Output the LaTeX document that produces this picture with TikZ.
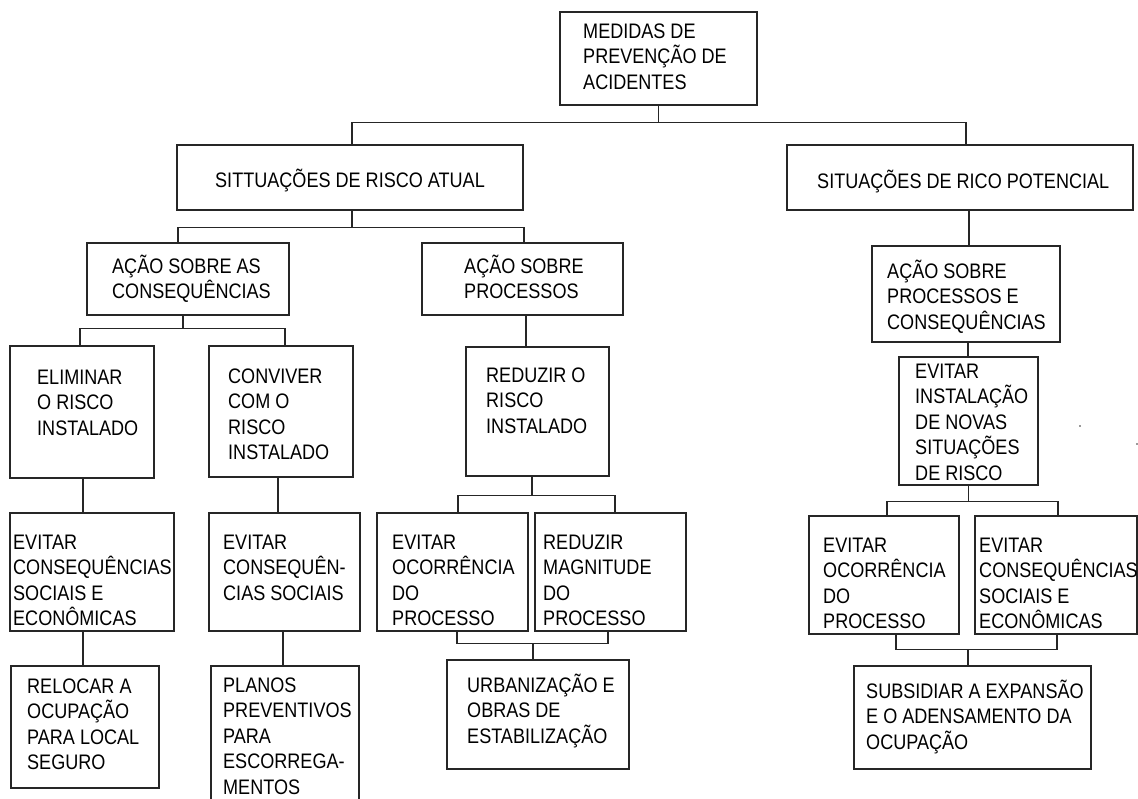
\documentclass[tikz,border=0pt]{standalone}
\usepackage{fontspec}
\setmainfont{Liberation Sans}[FakeStretch=0.86]
\usetikzlibrary{fit}
\tikzset{
  box/.style={draw=black!85, line width=1.3pt, rectangle, inner sep=0pt},
  txt/.style={inner sep=0pt, align=left, anchor=north west, text=black,
    font=\fontsize{21}{25.5}\selectfont},
  conn/.style={draw=black!85, line width=1.3pt}
}
\newcommand{\bx}[5]{\node[box, fit={(#2,#3) (#4,#5)}] (#1) {};}
\newcommand{\tx}[4]{\node[txt] (#1) at (#2,#3-6) {\rule{0pt}{21pt}#4};}
\begin{document}
\begin{tikzpicture}[x=1pt,y=-1pt]
\fill[white] (0,0) rectangle (1138,799);
\useasboundingbox (0,0) rectangle (1138,799);

% boxes
\bx{top}{560}{12}{757}{105}
\bx{atual}{177}{145}{523}{210}
\bx{pot}{787}{145}{1133}{210}
\bx{acons}{87}{243}{289}{315}
\bx{aproc}{422}{243}{623}{315}
\bx{apc}{872}{246}{1060}{342}
\bx{elim}{10}{346}{154}{478}
\bx{conv}{209}{346}{353}{477}
\bx{redu}{466}{347}{609}{476}
\bx{evinst}{899}{357}{1038}{485}
\bx{ecse}{10}{513}{174}{631}
\bx{ecs}{209}{513}{360}{631}
\bx{eop}{377}{513}{528}{631}
\bx{rmp}{535}{513}{686}{631}
\bx{reop}{809}{516}{959}{634}
\bx{recse}{975}{516}{1137}{634}
\bx{reloc}{11}{666}{159}{788}
\bx{planos}{211}{666}{359}{812}
\bx{urb}{447}{660}{629}{769}
\bx{subs}{854}{666}{1091}{769}

% texts
\tx{ttop}{583}{23}{MEDIDAS DE\\PREVENÇÃO DE\\ACIDENTES}
\tx{tatual}{215}{172}{SITTUAÇÕES DE RISCO ATUAL}
\tx{tpot}{817}{173}{SITUAÇÕES DE RICO POTENCIAL}
\tx{tacons}{112}{258}{AÇÃO SOBRE AS\\CONSEQUÊNCIAS}
\tx{taproc}{464}{258}{AÇÃO SOBRE\\PROCESSOS}
\tx{tapc}{887}{263}{AÇÃO SOBRE\\PROCESSOS E\\CONSEQUÊNCIAS}
\tx{telim}{37}{369}{ELIMINAR\\O RISCO\\INSTALADO}
\tx{tconv}{228}{368}{CONVIVER\\COM O\\RISCO\\INSTALADO}
\tx{tredu}{486}{367}{REDUZIR O\\RISCO\\INSTALADO}
\tx{tevinst}{915}{363}{EVITAR\\INSTALAÇÃO\\DE NOVAS\\SITUAÇÕES\\DE RISCO}
\tx{tecse}{13}{534}{EVITAR\\CONSEQUÊNCIAS\\SOCIAIS E\\ECONÔMICAS}
\tx{tecs}{223}{534}{EVITAR\\CONSEQUÊN-\\CIAS SOCIAIS}
\tx{teop}{392}{534}{EVITAR\\OCORRÊNCIA\\DO\\PROCESSO}
\tx{trmp}{543}{534}{REDUZIR\\MAGNITUDE\\DO\\PROCESSO}
\tx{treop}{823}{537}{EVITAR\\OCORRÊNCIA\\DO\\PROCESSO}
\tx{trecse}{979}{537}{EVITAR\\CONSEQUÊNCIAS\\SOCIAIS E\\ECONÔMICAS}
\tx{treloc}{27}{678}{RELOCAR A\\OCUPAÇÃO\\PARA LOCAL\\SEGURO}
\tx{tplanos}{223}{677}{PLANOS\\PREVENTIVOS\\PARA\\ESCORREGA-\\MENTOS}
\tx{turb}{467}{677}{URBANIZAÇÃO E\\OBRAS DE\\ESTABILIZAÇÃO}
\tx{tsubs}{866}{683}{SUBSIDIAR A EXPANSÃO\\E O ADENSAMENTO DA\\OCUPAÇÃO}

% junction coordinates
\coordinate (j1) at ([yshift=-17pt]top.south);
\coordinate (j2) at ([yshift=-17pt,xshift=2pt]atual.south);
\coordinate (j3) at ([yshift=-13pt,xshift=-5pt]acons.south);
\coordinate (j4) at ([yshift=-19pt,xshift=-5.5pt]redu.south);
\coordinate (j5) at ([yshift=-16pt]evinst.south);
\coordinate (j6) at ([yshift=16pt,xshift=-5pt]urb.north);
\coordinate (j7) at ([yshift=16pt,xshift=-4.5pt]subs.north);

% connectors
\draw[conn] (top.south) -- (j1);
\draw[conn] ([xshift=2pt]atual.north) |- (j1) -| ([xshift=6pt]pot.north);
\draw[conn] ([xshift=2pt]atual.south) -- (j2);
\draw[conn] ([xshift=-10pt]acons.north) |- (j2) -| ([xshift=1.5pt]aproc.north);
\draw[conn] ([xshift=-5pt]acons.south) -- (j3);
\draw[conn] ([xshift=-2pt]elim.north) |- (j3) -| ([xshift=4pt]conv.north);
\draw[conn] ([xshift=3.5pt]aproc.south) -- ([xshift=3.5pt]aproc.south |- redu.north);
\draw[conn] ([xshift=-5.5pt]redu.south) -- (j4);
\draw[conn] ([xshift=5.5pt]eop.north) |- (j4) -| ([xshift=4.5pt]rmp.north);
\draw[conn] ([xshift=4.5pt]eop.south) |- (j6) -| ([xshift=-2.5pt]rmp.south);
\draw[conn] (j6) -- ([xshift=-5pt]urb.north);
\draw[conn] ([xshift=1pt]elim.south) -- ([xshift=1pt]elim.south |- ecse.north);
\draw[conn] ([xshift=-3pt]conv.south) -- ([xshift=-3pt]conv.south |- ecs.north);
\draw[conn] ([xshift=-9pt]ecse.south) -- ([xshift=-9pt]ecse.south |- reloc.north);
\draw[conn] ([xshift=-1.5pt]ecs.south) -- ([xshift=-1.5pt]ecs.south |- planos.north);
\draw[conn] ([xshift=9pt]pot.south) -- ([xshift=9pt]pot.south |- apc.north);
\draw[conn] ([xshift=2pt]apc.south) -- ([xshift=2pt]apc.south |- evinst.north);
\draw[conn] (evinst.south) -- (j5);
\draw[conn] ([xshift=3pt]reop.north) |- (j5) -| ([xshift=2pt]recse.north);
\draw[conn] ([xshift=12pt]reop.south) |- (j7) -| ([xshift=1pt]recse.south);
\draw[conn] (j7) -- ([xshift=-4.5pt]subs.north);

% stray dots
\fill[black!80] (1080,426) circle (0.9pt);
\fill[black!80] (1137,444) circle (0.9pt);
\end{tikzpicture}
\end{document}
